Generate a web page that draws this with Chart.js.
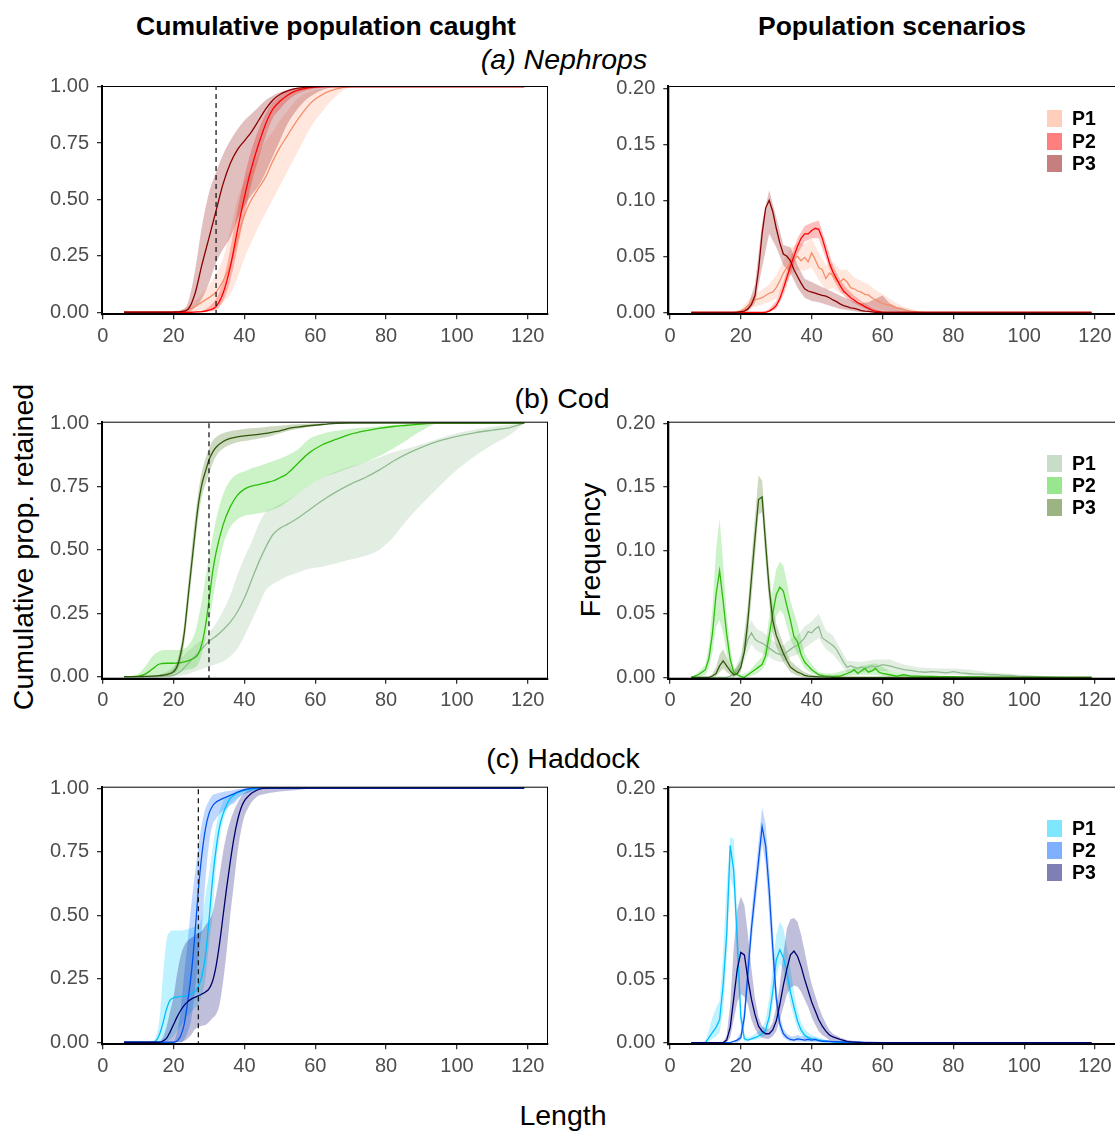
<!DOCTYPE html>
<html>
<head>
<meta charset="utf-8">
<title>Cumulative population caught / Population scenarios</title>
<script src="https://cdn.jsdelivr.net/npm/chart.js@4.4.1/dist/chart.umd.min.js"></script>
<style>
  html, body { margin: 0; padding: 0; background: #fff; }
  body { position: relative; width: 1115px; height: 1132px; overflow: hidden; font-family: "Liberation Sans", Arial, sans-serif; color: #000; }
  .panel { position: absolute; }
  .lbl { position: absolute; white-space: nowrap; line-height: 1; transform: translate(-50%, -50%); }
  .rot { transform: translate(-50%, -50%) rotate(-90deg); }
  .key { position: absolute; width: 15px; height: 17px; }
  .keytxt { position: absolute; font-weight: bold; font-size: 19.5px; line-height: 1; transform: translateY(-50%); }
</style>
</head>
<body>
<div class="lbl" style="left:326px;top:26px;font-size:26.5px;font-weight:bold">Cumulative population caught</div>
<div class="lbl" style="left:892px;top:26px;font-size:26.5px;font-weight:bold">Population scenarios</div>
<div class="lbl" style="left:564px;top:59px;font-size:28.5px;font-style:italic">(a) Nephrops</div>
<div class="lbl" style="left:562px;top:398px;font-size:28.5px">(b) Cod</div>
<div class="lbl" style="left:563px;top:758px;font-size:28.5px">(c) Haddock</div>
<div class="lbl" style="left:563px;top:1115px;font-size:28.5px">Length</div>
<div class="lbl rot" style="left:23px;top:547px;font-size:28.5px">Cumulative prop. retained</div>
<div class="lbl rot" style="left:590px;top:550px;font-size:28.5px">Frequency</div>

<script>
const scenarios = ['P1', 'P2', 'P3'];
const xTicks = [0, 20, 40, 60, 80, 100, 120];
const cumTicks = [0, 0.25, 0.5, 0.75, 1];
const freqTicks = [0, 0.05, 0.1, 0.15, 0.2];

// minimum conservation sizes (dashed lines)
const nephMcrs = 32;
const codMcrs = 30;
const hadMcrs = 27;

// ---- (a) Nephrops, cumulative ----
const nephCumLen = [6,18,20,22,24,26,28,30,32,34,36,38,40,42,44,46,48,50,52,54,56,58,60,62,64,66,68,70,72,119];
const nephCumP1   = [0,0,0,0.002,0.01,0.025,0.045,0.065,0.09,0.14,0.21,0.32,0.43,0.5,0.55,0.6,0.67,0.73,0.78,0.83,0.875,0.915,0.945,0.965,0.98,0.99,0.997,1,1,1];
const nephCumP1Lo = [0,0,0,0,0.002,0.005,0.01,0.015,0.02,0.045,0.08,0.15,0.24,0.31,0.38,0.44,0.5,0.56,0.62,0.68,0.74,0.8,0.85,0.89,0.93,0.96,0.985,0.995,1,1];
const nephCumP1Hi = [0,0,0.003,0.01,0.025,0.05,0.08,0.12,0.17,0.24,0.36,0.5,0.58,0.64,0.7,0.76,0.8,0.85,0.89,0.93,0.96,0.975,0.985,0.993,0.998,1,1,1,1,1];
const nephCumP2   = [0,0,0,0,0,0.001,0.003,0.01,0.025,0.085,0.2,0.36,0.51,0.64,0.745,0.835,0.9,0.935,0.96,0.978,0.988,0.995,0.998,1,1,1,1,1,1,1];
const nephCumP2Lo = [0,0,0,0,0,0,0,0.003,0.01,0.05,0.14,0.28,0.43,0.57,0.68,0.78,0.86,0.9,0.935,0.96,0.975,0.985,0.992,0.996,1,1,1,1,1,1];
const nephCumP2Hi = [0,0,0,0,0,0.003,0.008,0.025,0.06,0.14,0.28,0.45,0.6,0.72,0.81,0.88,0.93,0.96,0.977,0.988,0.995,0.998,1,1,1,1,1,1,1,1];
const nephCumP3   = [0,0,0.001,0.003,0.012,0.08,0.21,0.33,0.45,0.57,0.66,0.72,0.76,0.8,0.85,0.9,0.94,0.965,0.98,0.99,0.995,0.998,1,1,1,1,1,1,1,1];
const nephCumP3Lo = [0,0,0,0,0.002,0.02,0.06,0.13,0.22,0.28,0.33,0.41,0.47,0.52,0.56,0.62,0.69,0.76,0.83,0.88,0.92,0.95,0.97,0.985,0.995,1,1,1,1,1];
const nephCumP3Hi = [0,0,0.002,0.008,0.04,0.18,0.38,0.53,0.62,0.7,0.76,0.81,0.85,0.88,0.91,0.94,0.96,0.975,0.985,0.993,0.997,1,1,1,1,1,1,1,1,1];

// ---- (a) Nephrops, frequency ----
const nephFreqLen = [6,
  18,19,20,21,22,23,24,25,26,27,
  28,29,30,31,32,33,34,35,36,37,
  38,39,40,41,42,43,44,45,46,47,
  48,49,50,51,52,53,54,55,56,57,
  58,59,60,61,62,63,64,65,66,67,
  68,69,70,71,72, 119];
const nephFreqP1 = [0,
  0,0.0005,0.001,0.003,0.006,0.009,0.011,0.012,0.013,0.015,
  0.017,0.018,0.022,0.028,0.035,0.04,0.045,0.048,0.05,0.046,
  0.049,0.045,0.053,0.047,0.04,0.038,0.03,0.035,0.033,0.028,
  0.027,0.03,0.027,0.022,0.021,0.019,0.018,0.016,0.0155,0.013,
  0.011,0.0095,0.008,0.007,0.0065,0.005,0.004,0.0035,0.0025,0.0018,
  0.001,0.0007,0.0004,0.0002,0, 0];
const nephFreqP2 = [0,
  0,0,0,0,0,0,0,0,0,0,
  0.001,0.003,0.006,0.012,0.021,0.031,0.041,0.05,0.059,0.066,
  0.07,0.07,0.073,0.075,0.074,0.066,0.055,0.044,0.036,0.03,
  0.024,0.019,0.016,0.013,0.011,0.0085,0.007,0.005,0.0035,0.002,
  0.001,0.0005,0,0,0,0,0,0,0,0,
  0,0,0,0,0, 0];
const nephFreqP3 = [0,
  0,0,0.0005,0.001,0.003,0.007,0.015,0.038,0.07,0.093,
  0.1,0.09,0.075,0.062,0.052,0.05,0.046,0.038,0.032,0.026,
  0.021,0.019,0.018,0.017,0.016,0.015,0.0145,0.013,0.011,0.0095,
  0.0075,0.006,0.005,0.004,0.0035,0.0025,0.0015,0.001,0.0008,0.0004,
  0,0,0,0,0,0,0,0,0,0,
  0,0,0,0,0, 0];
const nephBandLen = [6,18,20,22,24,26,28,30,32,34,36,38,40,42,44,46,48,50,52,54,56,58,60,62,64,66,68,70,72,119];
const nephFreqP1Lo = [0,0,0,0.002,0.005,0.007,0.009,0.012,0.024,0.033,0.038,0.037,0.04,0.029,0.02,0.022,0.017,0.016,0.012,0.009,0.007,0.004,0.002,0.001,0,0,0,0,0,0];
const nephFreqP1Hi = [0,0,0.003,0.01,0.017,0.02,0.025,0.033,0.046,0.057,0.062,0.061,0.066,0.053,0.042,0.045,0.038,0.038,0.031,0.028,0.025,0.02,0.016,0.012,0.008,0.005,0.003,0.001,0,0];
const nephFreqP2Lo = [0,0,0,0,0,0,0,0.003,0.015,0.034,0.052,0.063,0.066,0.066,0.048,0.03,0.019,0.012,0.008,0.005,0.002,0,0,0,0,0,0,0,0,0];
const nephFreqP2Hi = [0,0,0,0,0,0,0.003,0.01,0.027,0.048,0.066,0.077,0.08,0.082,0.062,0.042,0.029,0.021,0.015,0.01,0.006,0.003,0.001,0,0,0,0,0,0,0];
const nephFreqP3Lo = [0,0,0,0.001,0.008,0.04,0.07,0.058,0.042,0.035,0.022,0.013,0.01,0.009,0.007,0.005,0.003,0.002,0.001,0,0,0,0,0,0,0,0,0,0,0];
const nephFreqP3Hi = [0,0,0.001,0.006,0.025,0.08,0.109,0.085,0.06,0.058,0.042,0.03,0.027,0.024,0.021,0.018,0.015,0.012,0.01,0.008,0.009,0.012,0.015,0.008,0.005,0.003,0.001,0,0,0];

// ---- (b) Cod, cumulative ----
const codCumLen = [6,8,10,12,14,16,18,20, 21,22,23,24,25,26,27,28,29,30,31,32, 34,36,38,40,42,44,46,48,50,52, 55,58, 62,66,70,74,78,82,86,90, 95,100,105,110,115, 119];
const codCumP1   = [0,0,0,0,0,0.001,0.002,0.005, 0.012,0.02,0.035,0.05,0.065,0.08,0.095,0.11,0.125,0.14,0.15,0.16, 0.185,0.215,0.255,0.31,0.38,0.45,0.51,0.56,0.585,0.6, 0.625,0.655, 0.695,0.73,0.76,0.785,0.815,0.85,0.88,0.905, 0.93,0.948,0.962,0.973,0.983, 1];
const codCumP1Lo = [0,0,0,0,0,0,0,0, 0.002,0.004,0.007,0.01,0.015,0.02,0.025,0.03,0.035,0.04,0.045,0.05, 0.06,0.08,0.11,0.16,0.22,0.28,0.34,0.365,0.38,0.395, 0.41,0.425, 0.434,0.448,0.462,0.476,0.5,0.55,0.62,0.68, 0.75,0.816,0.87,0.915,0.955, 1];
const codCumP1Hi = [0,0,0,0,0.002,0.008,0.02,0.04, 0.055,0.07,0.085,0.1,0.11,0.125,0.135,0.145,0.16,0.175,0.19,0.21, 0.26,0.32,0.4,0.47,0.53,0.6,0.65,0.665,0.68,0.695, 0.72,0.75, 0.785,0.81,0.83,0.845,0.865,0.885,0.9,0.917, 0.94,0.96,0.975,0.987,0.995, 1];
const codCumP2   = [0,0,0.002,0.01,0.03,0.05,0.053,0.053, 0.054,0.055,0.058,0.062,0.068,0.075,0.09,0.13,0.2,0.3,0.41,0.49, 0.6,0.67,0.715,0.74,0.752,0.758,0.765,0.772,0.785,0.8, 0.84,0.88, 0.915,0.937,0.957,0.97,0.98,0.987,0.992,0.997, 1,1,1,1,1, 1];
const codCumP2Lo = [0,0,0,0,0.002,0.006,0.01,0.013, 0.016,0.02,0.024,0.027,0.03,0.035,0.05,0.09,0.15,0.21,0.3,0.38, 0.52,0.59,0.62,0.635,0.64,0.645,0.65,0.66,0.67,0.69, 0.72,0.75, 0.785,0.805,0.825,0.845,0.87,0.9,0.935,0.97, 1,1,1,1,1, 1];
const codCumP2Hi = [0,0.002,0.01,0.04,0.08,0.1,0.105,0.105, 0.105,0.105,0.11,0.12,0.14,0.17,0.23,0.3,0.39,0.47,0.55,0.62, 0.72,0.775,0.8,0.81,0.822,0.83,0.84,0.85,0.86,0.872, 0.895,0.935, 0.958,0.97,0.978,0.983,0.988,0.993,0.996,0.999, 1,1,1,1,1, 1];
const codCumP3   = [0,0,0,0.001,0.002,0.004,0.008,0.02, 0.04,0.09,0.17,0.3,0.43,0.56,0.68,0.76,0.81,0.855,0.885,0.905, 0.928,0.94,0.946,0.95,0.953,0.956,0.96,0.965,0.97,0.978, 0.985,0.99, 0.995,0.999,1,1,1,1,1,1, 1,1,1,1,1, 1];
const codCumP3Lo = [0,0,0,0,0,0.001,0.003,0.01, 0.025,0.06,0.13,0.25,0.38,0.51,0.63,0.71,0.76,0.8,0.84,0.87, 0.9,0.915,0.925,0.93,0.935,0.94,0.945,0.952,0.96,0.968, 0.977,0.985, 0.992,0.997,1,1,1,1,1,1, 1,1,1,1,1, 1];
const codCumP3Hi = [0,0,0.001,0.003,0.005,0.008,0.014,0.03, 0.06,0.12,0.21,0.35,0.49,0.62,0.73,0.81,0.86,0.9,0.93,0.945, 0.96,0.968,0.973,0.977,0.98,0.982,0.985,0.988,0.99,0.993, 0.996,0.998, 1,1,1,1,1,1,1,1, 1,1,1,1,1, 1];

// ---- (b) Cod, frequency ----
const codFreqLen = [
  6,7,8,9,10,11,12,13,14,15,
  16,17,18,19,20,21,22,23,24,25,
  26,27,28,29,30,31,32,33,34,35,
  36,37,38,39,40,41,42,43,44,45,
  46,47,48,49,50,51,52,53,54,55,
  56,57,58,59,60,
  62,64,66,68,70,72,74,76,78,80,82,84,86,88,90,92,94,96,98,100,
  104,108,112,119];
const codFreqP1 = [
  0,0,0,0,0,0,0,0,0,0,
  0,0.001,0.002,0.006,0.012,0.02,0.03,0.035,0.03,0.028,
  0.027,0.025,0.023,0.021,0.019,0.018,0.0175,0.02,0.022,0.024,
  0.025,0.028,0.031,0.036,0.035,0.038,0.04,0.031,0.029,0.027,
  0.025,0.022,0.017,0.012,0.008,0.009,0.008,0.007,0.008,0.007,
  0.008,0.009,0.008,0.009,0.01,
  0.009,0.0075,0.006,0.0055,0.0045,0.004,0.0045,0.004,0.0035,0.0045,0.0035,0.003,0.0025,0.0025,0.002,0.002,0.0015,0.0015,0.001,0.0008,
  0.0005,0.0002,0,0];
const codFreqP2 = [
  0,0.001,0.002,0.004,0.006,0.015,0.035,0.065,0.084,0.06,
  0.034,0.014,0.004,0.002,0.0005,0,0.002,0.004,0.006,0.008,
  0.01,0.017,0.033,0.05,0.065,0.071,0.068,0.056,0.045,0.032,
  0.028,0.018,0.012,0.009,0.006,0.004,0.002,0.0015,0.001,0.001,
  0.0008,0.001,0.001,0.002,0.003,0.004,0.006,0.003,0.005,0.007,
  0.004,0.005,0.007,0.004,0.003,
  0.002,0.001,0.002,0.001,0.001,0.0008,0.0008,0.0006,0.0005,0.0005,0.0004,0.0004,0.0003,0.0003,0.0002,0.0002,0.0001,0.0001,0,0,
  0,0,0,0];
const codFreqP3 = [
  0,0,0,0,0,0,0.001,0.003,0.009,0.013,
  0.009,0.005,0.002,0.003,0.008,0.02,0.045,0.078,0.11,0.14,
  0.142,0.105,0.07,0.045,0.033,0.026,0.019,0.013,0.008,0.006,
  0.004,0.003,0.0015,0.001,0.0008,0.0006,0.0004,0.0003,0.0002,0.0001,
  0,0,0,0,0,0,0,0,0,0,
  0,0,0,0,0,
  0,0,0,0,0,0,0,0,0,0,0,0,0,0,0,0,0,0,0,0,
  0,0,0,0];
const codBandLen = [6,8,10, 11,12,13,14,15,16,17,18, 20, 22,23,24,25,26,27,28,29,30,31,32,33,34, 36,38,40,42,44,46, 50,54,58,62,66,70, 75,80,85,90,95,100,105,110, 119];
const codFreqP1Lo = [0,0,0, 0,0,0,0,0,0,0,0, 0.006, 0.02,0.026,0.022,0.02,0.019,0.017,0.016,0.014,0.013,0.012,0.012,0.014,0.016, 0.018,0.023,0.027,0.031,0.022,0.018, 0.004,0.004,0.005,0.005,0.003,0.002, 0.002,0.002,0.001,0.001,0.0005,0,0,0, 0];
const codFreqP1Hi = [0,0,0, 0,0,0,0,0,0,0.002,0.005, 0.018, 0.04,0.045,0.04,0.037,0.036,0.034,0.031,0.029,0.027,0.025,0.025,0.028,0.03, 0.033,0.04,0.044,0.05,0.037,0.033, 0.013,0.012,0.014,0.014,0.01,0.008, 0.007,0.007,0.006,0.004,0.003,0.002,0.001,0, 0];
const codFreqP2Lo = [0,0,0.002, 0.007,0.02,0.04,0.045,0.035,0.018,0.006,0.001, 0, 0,0.001,0.002,0.004,0.006,0.01,0.02,0.035,0.048,0.053,0.05,0.04,0.03, 0.018,0.007,0.003,0.001,0,0, 0.001,0.002,0.002,0,0,0, 0,0,0,0,0,0,0,0, 0];
const codFreqP2Hi = [0,0.004,0.01, 0.025,0.055,0.1,0.125,0.09,0.05,0.024,0.008, 0.002, 0.004,0.007,0.01,0.013,0.016,0.026,0.048,0.07,0.085,0.091,0.088,0.075,0.06, 0.042,0.019,0.01,0.004,0.003,0.003, 0.006,0.009,0.011,0.005,0.003,0.002, 0.0015,0.001,0.0008,0.0005,0.0003,0,0,0, 0];
const codFreqP3Lo = [0,0,0, 0,0,0.001,0.004,0.007,0.004,0.002,0, 0.004, 0.033,0.062,0.095,0.128,0.13,0.09,0.058,0.035,0.024,0.018,0.012,0.008,0.004, 0.001,0,0,0,0,0, 0,0,0,0,0,0, 0,0,0,0,0,0,0,0, 0];
const codFreqP3Hi = [0,0,0, 0,0.003,0.008,0.018,0.022,0.016,0.009,0.005, 0.013, 0.058,0.094,0.127,0.159,0.155,0.12,0.083,0.056,0.042,0.034,0.026,0.019,0.013, 0.008,0.004,0.002,0.001,0,0, 0,0,0,0,0,0, 0,0,0,0,0,0,0,0, 0];

// ---- (c) Haddock, cumulative ----
const hadCumLen = [6,10,12, 14,15,16,17,18,19,20,21,22,23, 24,25,26,27,28,29,30,31,32,33, 34,35,36,37,38,39,40,41,42,43,44, 46,48,50,55,60,119];
const hadCumP1   = [0,0,0, 0,0.005,0.03,0.075,0.13,0.165,0.175,0.178,0.18,0.182, 0.185,0.19,0.2,0.22,0.26,0.34,0.48,0.64,0.76,0.85, 0.9,0.935,0.96,0.972,0.982,0.988,0.992,0.995,0.997,0.998,0.999, 1,1,1,1,1,1];
const hadCumP1Lo = [0,0,0, 0,0,0,0.001,0.003,0.01,0.025,0.045,0.065,0.085, 0.105,0.12,0.135,0.15,0.185,0.25,0.38,0.5,0.69,0.8, 0.87,0.91,0.935,0.95,0.962,0.97,0.977,0.982,0.986,0.99,0.993, 0.996,0.998,1,1,1,1];
const hadCumP1Hi = [0,0,0.001, 0.005,0.02,0.09,0.26,0.4,0.435,0.44,0.44,0.44,0.442, 0.446,0.45,0.455,0.46,0.49,0.58,0.66,0.76,0.85,0.91, 0.95,0.965,0.972,0.98,0.985,0.99,0.993,0.996,0.998,1,1, 1,1,1,1,1,1];
const hadCumP2   = [0,0,0, 0,0,0,0,0,0,0,0.005,0.025,0.07, 0.16,0.27,0.42,0.6,0.74,0.84,0.9,0.93,0.945,0.953, 0.96,0.966,0.972,0.978,0.985,0.99,0.994,0.997,0.999,1,1, 1,1,1,1,1,1];
const hadCumP2Lo = [0,0,0, 0,0,0,0,0,0,0,0,0,0.01, 0.04,0.09,0.2,0.33,0.45,0.64,0.78,0.856,0.88,0.9, 0.91,0.92,0.935,0.94,0.955,0.968,0.977,0.983,0.988,0.992,0.995, 0.998,1,1,1,1,1];
const hadCumP2Hi = [0,0,0, 0,0,0,0,0,0,0.003,0.04,0.13,0.27, 0.4,0.54,0.66,0.77,0.86,0.92,0.95,0.972,0.978,0.982, 0.985,0.988,0.99,0.993,0.996,0.998,1,1,1,1,1, 1,1,1,1,1,1];
const hadCumP3   = [0,0,0, 0,0,0,0.005,0.015,0.04,0.07,0.1,0.125,0.145, 0.16,0.17,0.177,0.183,0.19,0.198,0.21,0.24,0.3,0.39, 0.5,0.61,0.71,0.8,0.87,0.92,0.95,0.967,0.98,0.988,0.995, 1,1,1,1,1,1];
const hadCumP3Lo = [0,0,0, 0,0,0,0,0,0,0,0,0,0.005, 0.015,0.03,0.05,0.06,0.065,0.068,0.08,0.095,0.11,0.15, 0.24,0.36,0.5,0.62,0.74,0.83,0.89,0.92,0.945,0.96,0.97, 0.978,0.983,0.987,0.993,1,1];
const hadCumP3Hi = [0,0,0, 0,0,0.003,0.02,0.06,0.12,0.18,0.27,0.34,0.38, 0.4,0.41,0.42,0.43,0.44,0.46,0.48,0.51,0.58,0.66, 0.75,0.82,0.87,0.91,0.94,0.965,0.98,0.99,0.995,0.998,1, 1,1,1,1,1,1];

// ---- (c) Haddock, frequency ----
const hadFreqLen = [
  6,7,8,9,10,11,12,13,14,15,
  16,17,18,19,20,21,22,23,24,25,
  26,27,28,29,30,31,32,33,34,35,
  36,37,38,39,40,41,42,43,44,45,
  46,47,48,49,50,51,52,53,54,55,56,
  60,70,119];
const hadFreqP1 = [
  0,0,0,0,0,0.004,0.008,0.012,0.018,0.045,
  0.085,0.155,0.135,0.08,0.02,0.003,0.002,0.003,0.004,0.005,
  0.007,0.01,0.02,0.04,0.065,0.073,0.067,0.055,0.04,0.028,
  0.017,0.01,0.006,0.004,0.003,0.0025,0.002,0.0015,0.001,0.0008,
  0.0005,0.0004,0.0003,0.0002,0.0001,0,0,0,0,0,0,
  0,0,0];
const hadFreqP2 = [
  0,0,0,0,0,0,0,0,0,0,
  0,0,0.001,0.002,0.004,0.02,0.055,0.09,0.117,0.143,
  0.17,0.155,0.12,0.075,0.035,0.015,0.007,0.004,0.0025,0.002,
  0.003,0.0025,0.002,0.0025,0.002,0.0025,0.0015,0.001,0.0012,0.001,
  0.0008,0.0007,0.0006,0.0005,0.0005,0.0004,0.0004,0.0003,0.0003,0.0002,0.0002,
  0,0,0];
const hadFreqP3 = [
  0,0,0,0,0,0,0,0,0,0,
  0.002,0.012,0.035,0.058,0.071,0.069,0.05,0.034,0.022,0.013,
  0.009,0.007,0.007,0.01,0.017,0.03,0.045,0.058,0.069,0.072,
  0.068,0.06,0.05,0.041,0.032,0.025,0.018,0.013,0.009,0.006,
  0.0045,0.0035,0.0025,0.0018,0.001,0.0006,0.0004,0.0002,0,0,0,
  0,0,0];
const hadBandLen = [6,10, 11,12,13,14,15,16,17,18,19,20, 21,22,23,24,25,26,27,28,29,30, 31,32,33,34,35,36,37,38,39,40, 41,42,43,44,45,46, 48,50,55,60,119];
const hadFreqP1Lo = [0,0, 0.001,0.003,0.005,0.008,0.025,0.065,0.13,0.12,0.06,0.01, 0.001,0.001,0.002,0.002,0.003,0.004,0.006,0.012,0.03,0.052, 0.062,0.057,0.045,0.03,0.02,0.011,0.006,0.003,0.002,0.001, 0.001,0.0005,0,0,0,0, 0,0,0,0,0];
const hadFreqP1Hi = [0,0.001, 0.01,0.02,0.027,0.033,0.07,0.125,0.162,0.16,0.1,0.03, 0.006,0.004,0.005,0.007,0.009,0.012,0.018,0.035,0.06,0.085, 0.095,0.09,0.075,0.058,0.04,0.026,0.016,0.011,0.008,0.006, 0.005,0.004,0.003,0.002,0.0015,0.001, 0.0005,0,0,0,0];
const hadFreqP2Lo = [0,0, 0,0,0,0,0,0,0,0,0,0.002, 0.013,0.045,0.078,0.105,0.13,0.157,0.14,0.1,0.06,0.026, 0.01,0.004,0.002,0.001,0.001,0.001,0.001,0.0008,0.0008,0.0008, 0.0008,0.0005,0.0003,0.0002,0.0001,0, 0,0,0,0,0];
const hadFreqP2Hi = [0,0, 0,0,0,0,0,0,0,0,0.004,0.008, 0.03,0.068,0.103,0.13,0.158,0.185,0.172,0.138,0.092,0.046, 0.022,0.011,0.007,0.005,0.005,0.006,0.005,0.005,0.005,0.004, 0.004,0.003,0.0025,0.002,0.002,0.0015, 0.001,0.001,0.0005,0,0];
const hadFreqP3Lo = [0,0, 0,0,0,0,0,0,0.004,0.018,0.032,0.038, 0.036,0.03,0.018,0.011,0.006,0.004,0.003,0.003,0.005,0.009, 0.018,0.028,0.038,0.043,0.045,0.044,0.04,0.034,0.028,0.02, 0.014,0.009,0.006,0.004,0.002,0.001, 0.0005,0,0,0,0];
const hadFreqP3Hi = [0,0, 0,0,0,0,0,0.006,0.03,0.075,0.105,0.115, 0.108,0.085,0.058,0.035,0.02,0.013,0.011,0.011,0.016,0.028, 0.045,0.07,0.09,0.097,0.098,0.095,0.085,0.072,0.058,0.046, 0.037,0.028,0.021,0.015,0.01,0.007, 0.004,0.002,0.0005,0,0];

// colours per species: line colour, ribbon rgb
const nephLine = ['#f58f69', '#ff0000', '#8b0000'];
const nephFill = ['255,160,122', '255,0,0', '139,0,0'];
const codLine = ['#8fbc8f', '#2dbf0a', '#2f5a0c'];
const codFill = ['143,188,143', '50,205,30', '55,105,5'];
const hadLine = ['#00bfff', '#0055ee', '#000070'];
const hadFill = ['0,205,255', '0,96,255', '0,0,110'];

const tickFont = { family: '"Liberation Sans", Arial, sans-serif', size: 20 };

function pts(xs, ys) {
  return xs.map((x, i) => ({ x: x, y: ys[i] }));
}

const framePlugin = {
  id: 'frame',
  afterDatasetsDraw(chart) {
    const { ctx, chartArea: a } = chart;
    ctx.save();
    ctx.strokeStyle = '#000';
    ctx.lineWidth = 1;
    ctx.strokeRect(a.left + 0.5, a.top + 0.5, a.right - a.left - 1, a.bottom - a.top - 1);
    ctx.restore();
  }
};

function drawPanel(p) {
  const box = document.createElement('div');
  box.className = 'panel';
  box.style.left = p.left + 'px';
  box.style.top = p.top + 'px';
  const cv = document.createElement('canvas');
  cv.width = p.w;
  cv.height = p.h;
  box.appendChild(cv);
  document.body.appendChild(box);

  const curve = p.smooth ? 'monotone' : 'default';
  const datasets = [];
  p.mean.forEach((m, i) => {
    datasets.push({ data: pts(p.bandLen, p.lo[i]), borderWidth: 0, pointRadius: 0, fill: false, order: 30 - i,
      tension: p.smooth ? 0.4 : 0, cubicInterpolationMode: curve });
    datasets.push({ data: pts(p.bandLen, p.hi[i]), borderWidth: 0, pointRadius: 0, fill: datasets.length - 1,
      backgroundColor: 'rgba(' + p.fill[i] + ',0.25)', order: 30 - i,
      tension: p.smooth ? 0.4 : 0, cubicInterpolationMode: curve });
  });
  p.mean.forEach((m, i) => {
    datasets.push({ data: pts(p.len, m), borderColor: p.line[i], borderWidth: 1.3, pointRadius: 0, fill: false, order: 10 - i,
      tension: p.smooth ? 0.4 : 0, cubicInterpolationMode: curve });
  });
  if (p.mcrs) {
    datasets.push({ data: [{ x: p.mcrs, y: p.yMin - 1 }, { x: p.mcrs, y: p.yMax + 1 }],
      borderColor: '#1a1a1a', borderWidth: 1.3, borderDash: [5, 4], pointRadius: 0, fill: false, order: 0 });
  }

  new Chart(cv, {
    type: 'line',
    data: { datasets: datasets },
    plugins: [framePlugin],
    options: {
      responsive: false,
      animation: false,
      events: [],
      layout: { padding: { left: 0, top: p.padT, right: p.padR, bottom: 0 } },
      plugins: { legend: { display: false }, tooltip: { enabled: false } },
      scales: {
        x: {
          type: 'linear',
          min: p.xMin,
          max: p.xMax,
          afterBuildTicks: s => { s.ticks = xTicks.map(v => ({ value: v })); },
          afterFit: s => { s.height = p.axisH; },
          ticks: { font: tickFont, color: '#4d4d4d', padding: 5, maxRotation: 0, autoSkip: false, callback: v => String(v) },
          grid: { drawOnChartArea: false, drawTicks: true, tickLength: 5, color: '#333', lineWidth: 1.3 },
          border: { display: true, color: '#000', width: 2 }
        },
        y: {
          type: 'linear',
          min: p.yMin,
          max: p.yMax,
          afterBuildTicks: s => { s.ticks = p.yTicks.map(v => ({ value: v })); },
          afterFit: s => { s.width = p.axisW; },
          ticks: { font: tickFont, color: '#4d4d4d', padding: 8, autoSkip: false, callback: v => v.toFixed(2) },
          grid: { drawOnChartArea: false, drawTicks: true, tickLength: 5, color: '#333', lineWidth: 1.3 },
          border: { display: true, color: '#000', width: 2 }
        }
      }
    }
  });

  if (p.keyTops) {
    p.keyTops.forEach((t, i) => {
      const k = document.createElement('div');
      k.className = 'key';
      k.style.left = '1047px';
      k.style.top = t + 'px';
      k.style.background = 'rgba(' + p.fill[i] + ',0.5)';
      document.body.appendChild(k);
      const s = document.createElement('div');
      s.className = 'keytxt';
      s.style.left = '1072px';
      s.style.top = (t + 9) + 'px';
      s.textContent = scenarios[i];
      document.body.appendChild(s);
    });
  }
}

const leftBase = { left: 0, w: 562, padR: 14, axisW: 102, xMin: -0.2, xMax: 125.7, yTicks: cumTicks, smooth: true };
const rightBase = { left: 568, w: 552, padR: 3, axisW: 100.3, xMin: -0.48, xMax: 126.2, yTicks: freqTicks, smooth: false };

drawPanel(Object.assign({}, leftBase, {
  top: 66, h: 300, padT: 20, axisH: 51.7, yMin: -0.009, yMax: 1.003, mcrs: nephMcrs,
  len: nephCumLen, bandLen: nephCumLen,
  mean: [nephCumP1, nephCumP2, nephCumP3], lo: [nephCumP1Lo, nephCumP2Lo, nephCumP3Lo], hi: [nephCumP1Hi, nephCumP2Hi, nephCumP3Hi],
  line: nephLine, fill: nephFill }));
drawPanel(Object.assign({}, rightBase, {
  top: 66, h: 300, padT: 20, axisH: 51.7, yMin: -0.0018, yMax: 0.202,
  len: nephFreqLen, bandLen: nephBandLen,
  mean: [nephFreqP1, nephFreqP2, nephFreqP3], lo: [nephFreqP1Lo, nephFreqP2Lo, nephFreqP3Lo], hi: [nephFreqP1Hi, nephFreqP2Hi, nephFreqP3Hi],
  line: nephLine, fill: nephFill, keyTops: [110, 132.5, 155] }));

drawPanel(Object.assign({}, leftBase, {
  top: 400, h: 330, padT: 21.7, axisH: 51.3, yMin: -0.008, yMax: 1.006, mcrs: codMcrs,
  len: codCumLen, bandLen: codCumLen,
  mean: [codCumP1, codCumP2, codCumP3], lo: [codCumP1Lo, codCumP2Lo, codCumP3Lo], hi: [codCumP1Hi, codCumP2Hi, codCumP3Hi],
  line: codLine, fill: codFill }));
drawPanel(Object.assign({}, rightBase, {
  top: 400, h: 330, padT: 21.7, axisH: 51.3, yMin: -0.0011, yMax: 0.2013,
  len: codFreqLen, bandLen: codBandLen,
  mean: [codFreqP1, codFreqP2, codFreqP3], lo: [codFreqP1Lo, codFreqP2Lo, codFreqP3Lo], hi: [codFreqP1Hi, codFreqP2Hi, codFreqP3Hi],
  line: codLine, fill: codFill, keyTops: [455, 477, 499] }));

drawPanel(Object.assign({}, leftBase, {
  top: 765, h: 330, padT: 21.7, axisH: 50.7, yMin: -0.008, yMax: 1.006, mcrs: hadMcrs,
  len: hadCumLen, bandLen: hadCumLen,
  mean: [hadCumP1, hadCumP2, hadCumP3], lo: [hadCumP1Lo, hadCumP2Lo, hadCumP3Lo], hi: [hadCumP1Hi, hadCumP2Hi, hadCumP3Hi],
  line: hadLine, fill: hadFill }));
drawPanel(Object.assign({}, rightBase, {
  top: 765, h: 330, padT: 21.7, axisH: 50.7, yMin: -0.0013, yMax: 0.2013,
  len: hadFreqLen, bandLen: hadBandLen,
  mean: [hadFreqP1, hadFreqP2, hadFreqP3], lo: [hadFreqP1Lo, hadFreqP2Lo, hadFreqP3Lo], hi: [hadFreqP1Hi, hadFreqP2Hi, hadFreqP3Hi],
  line: hadLine, fill: hadFill, keyTops: [820, 842, 864] }));
</script>
</body>
</html>
